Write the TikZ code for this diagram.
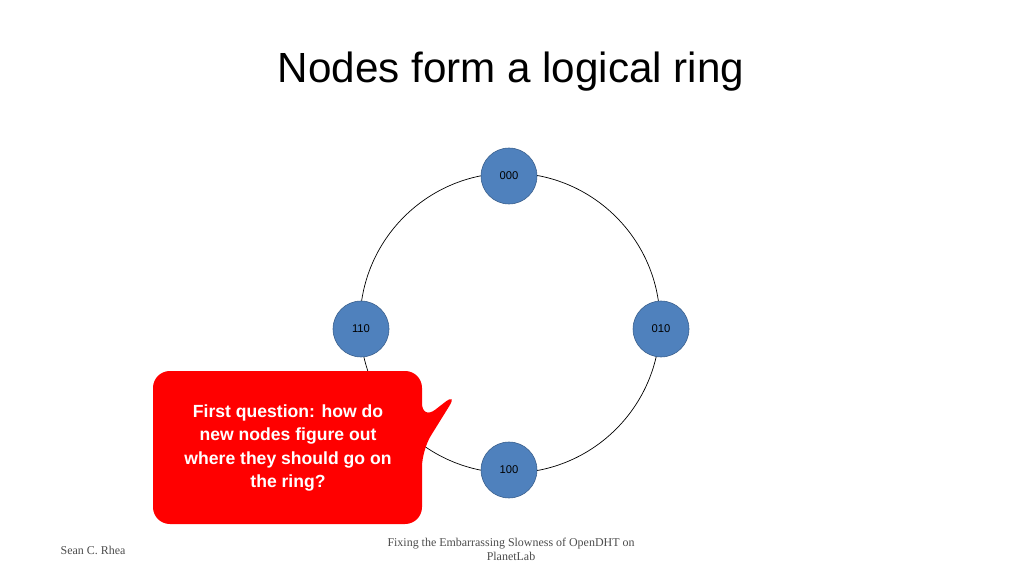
\documentclass[tikz,border=0pt]{standalone}
\usepackage{fontspec}
\setmainfont{Liberation Serif}
\setsansfont{Liberation Sans}
\definecolor{nodeblue}{RGB}{79,129,189}
\definecolor{nodeedge}{RGB}{56,93,138}
\definecolor{callred}{RGB}{255,0,0}
\tikzset{
  ringnode/.style={circle,fill=nodeblue,draw=nodeedge,minimum size=56*0.025cm,inner sep=0pt,font=\sffamily\fontsize{8}{9}\selectfont},
  footer/.style={font=\fontsize{8.5}{10}\selectfont,text=black!70,align=center}
}
\begin{document}
\begin{tikzpicture}[x=0.025cm,y=-0.025cm]
  \useasboundingbox (0,0) rectangle (1024,576);
  % Title
  \node[font=\sffamily\fontsize{30}{34}\selectfont] (title) at (511,72) {Nodes form a logical ring};
  % Ring
  \draw[black,line width=0.5pt] (510,323) circle[radius=150];
  \node[ringnode] (n000) at (509,176) {000};
  \node[ringnode] (n010) at (661,329) {010};
  \node[ringnode] (n110) at (361,329) {110};
  \node[ringnode] (n100) at (509,470) {100};
  % Callout
  \fill[callred,rounded corners=12] (153,371) -- (422,371) -- (422,420) -- (458,392) -- (422,450)
    -- (422,524) -- (153,524) -- cycle;
  \node[text=white,font=\sffamily\bfseries\fontsize{12.5}{16.5}\selectfont,align=center] (question) at (288,448)
    {First question: how do\\new nodes figure out\\where they should go on\\the ring?};
  % Footer
  \node[footer] (author) at (93,550) {Sean C. Rhea};
  \node[footer] (talk) at (511,549) {Fixing the Embarrassing Slowness of OpenDHT on\\PlanetLab};
\end{tikzpicture}
\end{document}
